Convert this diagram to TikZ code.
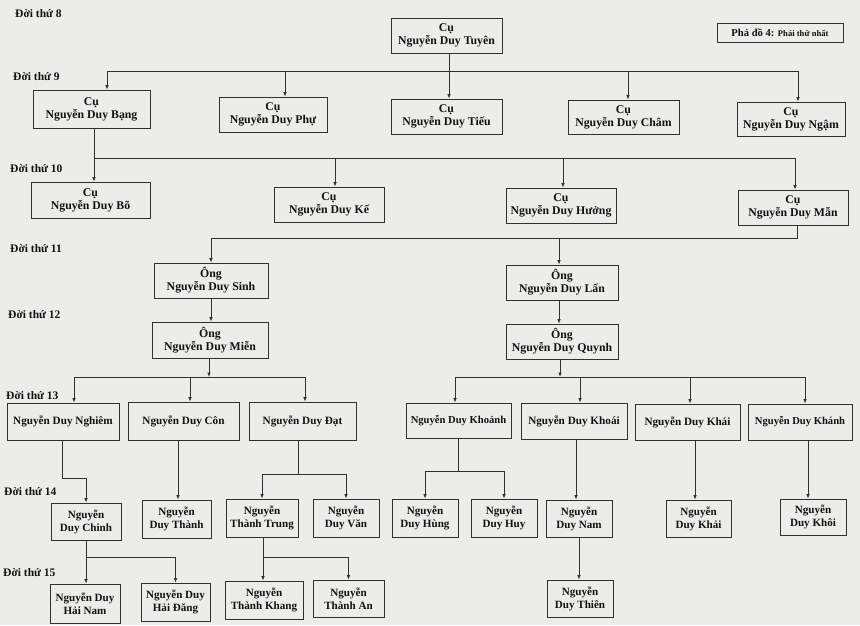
\documentclass[tikz,border=0pt]{standalone}
\usepackage{fontspec}
\setmainfont{Liberation Serif}
\usetikzlibrary{arrows.meta}
\definecolor{bgc}{HTML}{ECECEA}
\definecolor{lnc}{HTML}{303030}
\definecolor{txc}{HTML}{121212}
\tikzset{
  box/.style={draw=lnc, line width=0.9pt, fill=bgc, inner sep=0pt, align=center, text=txc},
  big/.style={font=\fontsize{11.8}{13}\selectfont\bfseries},
  mid/.style={font=\fontsize{11.2}{13}\selectfont\bfseries},
  sml/.style={font=\fontsize{10.6}{13}\selectfont\bfseries},
  tiny/.style={font=\fontsize{11.1}{13}\selectfont\bfseries},
  genlbl/.style={anchor=west, inner sep=0pt, text=txc, font=\fontsize{11.5}{13}\selectfont\bfseries},
  ln/.style={draw=lnc, line width=0.8pt},
  arr/.style={ln, -{Latex[length=4.5pt,width=3.6pt]}}
}
\newcommand\bx[7]{\node[box,#7,minimum width=#4pt,minimum height=#5pt] (#1) at (#2,#3) {#6};}
\begin{document}
\begin{tikzpicture}[x=1pt,y=-1pt]
\fill[bgc] (0,0) rectangle (860,625);
\useasboundingbox (0,0) rectangle (860,625);

% generation labels
\node[genlbl] (g8) at (15,14) {Đời thứ 8};
\node[genlbl] (g9) at (13,77) {Đời thứ 9};
\node[genlbl] (g10) at (10,169) {Đời thứ 10};
\node[genlbl] (g11) at (10,249) {Đời thứ 11};
\node[genlbl] (g12) at (8,315) {Đời thứ 12};
\node[genlbl] (g13) at (6,396) {Đời thứ 13};
\node[genlbl] (g14) at (4,492) {Đời thứ 14};
\node[genlbl] (g15) at (3,573) {Đời thứ 15};

% legend
\node[box, minimum width=126pt, minimum height=19pt] (legend) at (780,32.5)
  {{\fontsize{10.6}{12}\selectfont\bfseries Phả đồ 4: }{\fontsize{8.6}{10}\selectfont\bfseries Phái thứ nhất}};

% gen 8
\bx{tuyen}{446.5}{35.5}{111}{35}{Cụ\\Nguyễn Duy Tuyên}{big}
% gen 9
\bx{bang}{91.5}{109}{117}{38}{Cụ\\Nguyễn Duy Bạng}{big}
\bx{phu}{273}{114.5}{108}{35}{Cụ\\Nguyễn Duy Phự}{big}
\bx{tieu}{446.5}{116.5}{111}{35}{Cụ\\Nguyễn Duy Tiếu}{big}
\bx{cham}{623.5}{117}{111}{34}{Cụ\\Nguyễn Duy Châm}{big}
\bx{ngam}{791}{119}{108}{34}{Cụ\\Nguyễn Duy Ngậm}{big}
% gen 10
\bx{bo}{90.5}{200}{119}{36}{Cụ\\Nguyễn Duy Bõ}{big}
\bx{ke}{329}{204.5}{110}{35}{Cụ\\Nguyễn Duy Kế}{big}
\bx{huong}{561}{205.5}{110}{35}{Cụ\\Nguyễn Duy Hưởng}{big}
\bx{man}{793}{207.5}{110}{35}{Cụ\\Nguyễn Duy Mẫn}{big}
% gen 11
\bx{sinh}{211}{280.5}{114}{35}{Ông\\Nguyễn Duy Sinh}{big}
\bx{lan}{562}{282.5}{112}{35}{Ông\\Nguyễn Duy Lấn}{big}
% gen 12
\bx{mien}{210}{340}{116}{36}{Ông\\Nguyễn Duy Miễn}{big}
\bx{quynh}{562}{341.5}{112}{35}{Ông\\Nguyễn Duy Quynh}{big}
% gen 13
\bx{nghiem}{63}{421.5}{112}{37}{Nguyễn Duy Nghiêm}{mid}
\bx{con}{183.5}{421}{111}{38}{Nguyễn Duy Côn}{mid}
\bx{dat}{302.5}{421}{107}{38}{Nguyễn Duy Đạt}{mid}
\bx{khoanh}{458.5}{420.5}{105}{35}{Nguyễn Duy Khoảnh}{sml}
\bx{khoai}{574}{421}{106}{36}{Nguyễn Duy Khoái}{mid}
\bx{khai}{687.5}{422}{105}{36}{Nguyễn Duy Khái}{mid}
\bx{khanh}{800}{422}{104}{36}{Nguyễn Duy Khánh}{sml}
% gen 14
\bx{chinh}{86}{521.5}{70}{37}{Nguyễn\\Duy Chinh}{tiny}
\bx{thanh}{176.5}{519}{69}{38}{Nguyễn\\Duy Thành}{tiny}
\bx{trung}{262}{518}{72}{38}{Nguyễn\\Thành Trung}{tiny}
\bx{van}{346}{518}{66}{38}{Nguyễn\\Duy Văn}{tiny}
\bx{hung}{425}{518}{66}{38}{Nguyễn\\Duy Hùng}{tiny}
\bx{huy}{504}{518}{66}{38}{Nguyễn\\Duy Huy}{tiny}
\bx{nam}{579}{518.5}{66}{37}{Nguyễn\\Duy Nam}{tiny}
\bx{khaii}{698.5}{518.5}{65}{37}{Nguyễn\\Duy Khải}{tiny}
\bx{khoi}{813}{517}{66}{36}{Nguyễn\\Duy Khôi}{tiny}
% gen 15
\bx{hainam}{85}{603.5}{70}{39}{Nguyễn Duy\\Hải Nam}{tiny}
\bx{haidang}{175.5}{602}{69}{38}{Nguyễn Duy\\Hải Đăng}{tiny}
\bx{khang}{264}{600}{78}{38}{Nguyễn\\Thành Khang}{tiny}
\bx{an}{348.5}{598.5}{71}{37}{Nguyễn\\Thành An}{tiny}
\bx{thien}{580}{598.5}{66}{37}{Nguyễn\\Duy Thiên}{tiny}

% ---- connectors ----
% gen 8 -> 9
\coordinate (b9) at (0,71);
\coordinate (iBang) at ([xshift=15.5pt]bang.north);
\coordinate (iPhu) at ([xshift=12pt]phu.north);
\coordinate (iTieu) at ([xshift=2.5pt]tieu.north);
\coordinate (iCham) at ([xshift=4.5pt]cham.north);
\coordinate (iNgam) at ([xshift=7pt]ngam.north);
\draw[ln] (iBang |- b9) -- (iNgam |- b9);
\draw[arr] (tuyen.south -| iTieu) -- (iTieu);
\draw[arr] (iBang |- b9) -- (iBang);
\draw[arr] (iPhu |- b9) -- (iPhu);
\draw[arr] (iCham |- b9) -- (iCham);
\draw[arr] (iNgam |- b9) -- (iNgam);

% gen 9 -> 10
\coordinate (b10) at (0,158);
\coordinate (oBang) at ([xshift=2.5pt]bang.south);
\coordinate (iBo) at ([xshift=3.5pt]bo.north);
\coordinate (iKe) at ([xshift=6pt]ke.north);
\coordinate (iHuong) at ([xshift=2pt]huong.north);
\coordinate (iMan) at ([xshift=2pt]man.north);
\draw[ln] (oBang) -- (oBang |- b10) -- (iMan |- b10);
\draw[arr] (iBo |- b10) -- (iBo);
\draw[arr] (iKe |- b10) -- (iKe);
\draw[arr] (iHuong |- b10) -- (iHuong);
\draw[arr] (iMan |- b10) -- (iMan);

% gen 10 -> 11
\coordinate (b11) at (0,238);
\coordinate (oMan) at ([xshift=4pt]man.south);
\coordinate (iLan) at ([xshift=-3pt]lan.north);
\draw[ln] (oMan) -- (oMan |- b11) -- (sinh.north |- b11);
\draw[arr] (sinh.north |- b11) -- (sinh.north);
\draw[arr] (iLan |- b11) -- (iLan);

% gen 11 -> 12
\draw[arr] (sinh.south) -- (sinh.south |- mien.north);
\draw[arr] (iLan |- lan.south) -- (iLan |- quynh.north);

% gen 12 -> 13
\coordinate (b13) at (0,377);
\coordinate (oMien) at ([xshift=-1pt]mien.south);
\coordinate (iNghiem) at ([xshift=11pt]nghiem.north);
\coordinate (iCon) at ([xshift=6.5pt]con.north);
\coordinate (iDat) at ([xshift=2.5pt]dat.north);
\draw[arr] (oMien) -- (oMien |- b13);
\draw[ln] (iNghiem |- b13) -- (iDat |- b13);
\draw[arr] (iNghiem |- b13) -- (iNghiem);
\draw[arr] (iCon |- b13) -- (iCon);
\draw[arr] (iDat |- b13) -- (iDat);

\coordinate (oQuynh) at ([xshift=-2pt]quynh.south);
\coordinate (iKhoanh) at ([xshift=-3.5pt]khoanh.north);
\coordinate (iKhoai) at ([xshift=6pt]khoai.north);
\coordinate (iKhai) at ([xshift=2.5pt]khai.north);
\coordinate (iKhanh) at ([xshift=5pt]khanh.north);
\draw[arr] (oQuynh) -- (oQuynh |- b13);
\draw[ln] (iKhoanh |- b13) -- (iKhanh |- b13);
\draw[arr] (iKhoanh |- b13) -- (iKhoanh);
\draw[arr] (iKhoai |- b13) -- (iKhoai);
\draw[arr] (iKhai |- b13) -- (iKhai);
\draw[arr] (iKhanh |- b13) -- (iKhanh);

% gen 13 -> 14
\coordinate (e1) at (0,478);
\coordinate (e2) at (0,474);
\coordinate (e3) at (0,471);
\coordinate (oNghiem) at ([xshift=-1pt]nghiem.south);
\draw[arr] (oNghiem) -- (oNghiem |- e1) -| (chinh.north);
\coordinate (iThanh) at ([xshift=1.5pt]thanh.north);
\draw[arr] (con.south -| iThanh) -- (iThanh);
\coordinate (oDat) at ([xshift=-4.5pt]dat.south);
\draw[ln] (oDat) -- (oDat |- e2);
\draw[arr] (oDat |- e2) -| (trung.north);
\draw[arr] (oDat |- e2) -| (van.north);
\draw[ln] (khoanh.south) -- (khoanh.south |- e3);
\draw[arr] (khoanh.south |- e3) -| (hung.north);
\draw[arr] (khoanh.south |- e3) -| (huy.north);
\coordinate (iNam) at ([xshift=-3pt]nam.north);
\draw[arr] (khoai.south -| iNam) -- (iNam);
\coordinate (iKhaii) at ([xshift=-3.5pt]khaii.north);
\draw[arr] (khai.south -| iKhaii) -- (iKhaii);
\coordinate (iKhoi) at ([xshift=-5pt]khoi.north);
\draw[arr] (khanh.south -| iKhoi) -- (iKhoi);

% gen 14 -> 15
\coordinate (e4) at (0,557);
\draw[ln] (chinh.south) -- (chinh.south |- e4);
\draw[arr] (chinh.south |- e4) -- (chinh.south |- hainam.north);
\draw[arr] (chinh.south |- e4) -| (haidang.north);
\coordinate (oTrung) at ([xshift=1pt]trung.south);
\draw[ln] (oTrung) -- (oTrung |- e4);
\draw[arr] (oTrung |- e4) -- (oTrung |- khang.north);
\draw[arr] (oTrung |- e4) -| (an.north);
\draw[arr] (nam.south) -- (nam.south |- thien.north);
\end{tikzpicture}
\end{document}
